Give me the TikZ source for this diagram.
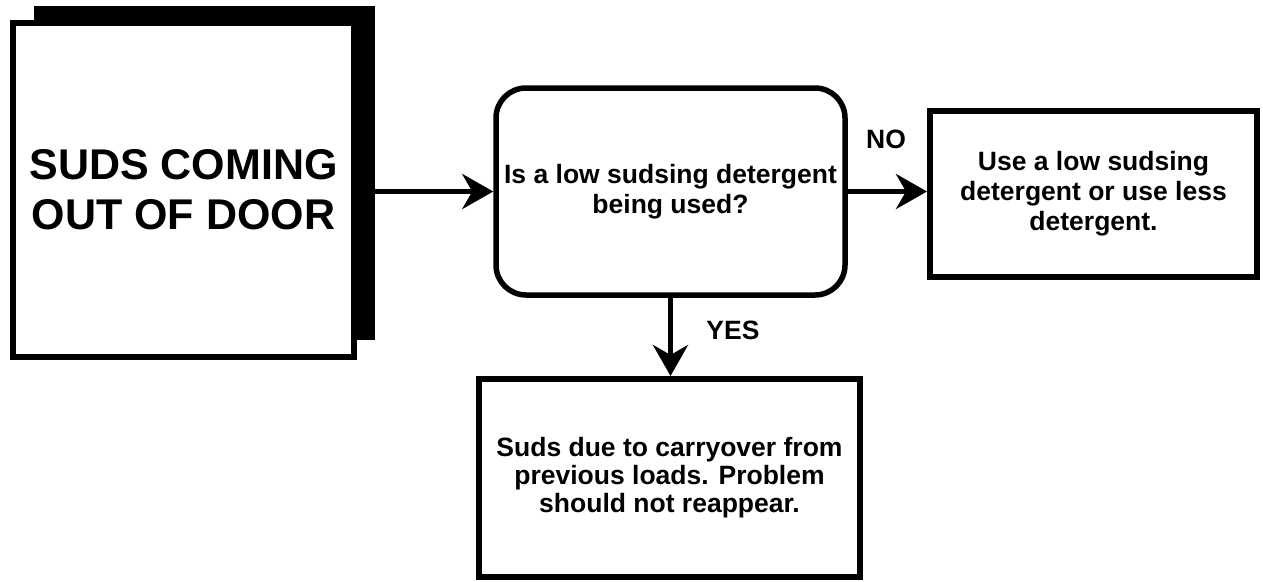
\documentclass[tikz,border=0pt]{standalone}
\usepackage{fontspec}
\setmainfont{Liberation Sans}
\usetikzlibrary{arrows.meta,shadows}

\begin{document}
\begin{tikzpicture}[x=1pt,y=-1pt]

% ---------- styles ----------
\tikzset{
  chartbox/.style={draw, line width=6pt, fill=white, inner sep=0pt, align=center,
    font=\bfseries\fontsize{26.5}{30}\selectfont},
  titlebox/.style={chartbox, font=\bfseries\fontsize{43}{50}\selectfont,
    drop shadow={shadow xshift=21pt, shadow yshift=17pt, fill=black, opacity=1}},
  querybox/.style={chartbox, line width=5.5pt, rounded corners=30pt},
  flow/.style={line width=5.5pt, -{Stealth[length=31pt, width=35pt, inset=10pt]}},
  tag/.style={font=\bfseries\fontsize{26.5}{30}\selectfont, inner sep=0pt}
}

\useasboundingbox (0,0) rectangle (1263,581);

% ---------- boxes ----------
\node[titlebox, minimum width=341pt, minimum height=334pt] (suds) at (183.5,190)
  {SUDS COMING\\OUT OF DOOR};

\node[querybox, minimum width=349pt, minimum height=207pt] (query) at (670.5,191.5)
  {Is a low sudsing detergent\\being used?};

\node[chartbox, minimum width=327pt, minimum height=166pt] (remedy) at (1093.5,194)
  {Use a low sudsing\\detergent or use less\\detergent.};

\node[chartbox, minimum width=381pt, minimum height=198pt, font=\bfseries\fontsize{26.5}{28}\selectfont] (carryover) at (669.5,478)
  {Suds due to carryover from\\previous loads. Problem\\should not reappear.};

% ---------- connectors ----------
\draw[flow] (suds.east |- query.west) -- (query.west);
\draw[flow] (query.east) -- (remedy.west |- query.east);
\draw[flow] (query.south) -- (carryover.north -| query.south);

% ---------- labels ----------
\node[tag] (no) at (886,139) {NO};
\node[tag] (yes) at (733,330) {YES};

\end{tikzpicture}
\end{document}
